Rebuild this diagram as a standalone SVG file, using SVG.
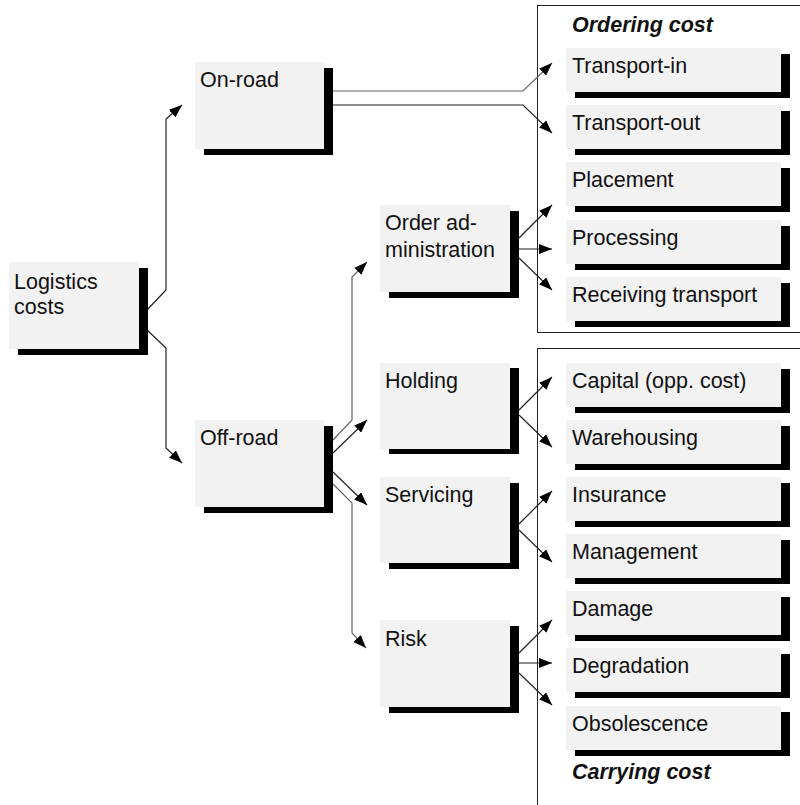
<svg xmlns="http://www.w3.org/2000/svg" width="800" height="805" viewBox="0 0 800 805">
  <style>
    .box { fill: #f2f2f2; }
    .shadow { fill: #000; }
    .label { font-family: "Liberation Sans", Arial, sans-serif; font-size: 21.5px; fill: #111; }
    .title { font-family: "Liberation Sans", Arial, sans-serif; font-size: 21.5px; font-weight: bold; font-style: italic; fill: #111; }
    .frame { fill: none; stroke: #222; stroke-width: 1; }
    .conn { fill: none; stroke: #222; stroke-width: 1.2; }
    .grey { stroke: #666; }
  </style>
  <defs>
    <marker id="arrow" markerUnits="userSpaceOnUse" markerWidth="13" markerHeight="10" refX="13" refY="5" orient="auto">
      <path d="M0,0 L13,5 L0,10 z" fill="#000"/>
    </marker>
  </defs>

  <rect width="800" height="805" fill="#fff"/>

  <!-- category frames -->
  <g id="ordering-cost">
    <rect class="frame" x="537.5" y="5.5" width="270" height="327"/>
    <text class="title" x="572" y="32">Ordering cost</text>
  </g>
  <g id="carrying-cost">
    <rect class="frame" x="537.5" y="348.5" width="270" height="470"/>
    <text class="title" x="572" y="779">Carrying cost</text>
  </g>

  <!-- connectors -->
  <g id="connectors">
    <!-- Logistics costs to On-road / Off-road -->
    <path class="conn" d="M147,310 L166,290 L166,119 L182,105" marker-end="url(#arrow)"/>
    <path class="conn" d="M147,330 L166,348 L166,448 L182,463" marker-end="url(#arrow)"/>
    <circle cx="138" cy="320" r="1.6" fill="#000"/>

    <!-- On-road to transport items -->
    <path class="conn grey" d="M333,91 L523,91 L552,63" marker-end="url(#arrow)"/>
    <path class="conn" d="M333,105 L523,105 L552,133" marker-end="url(#arrow)"/>

    <!-- Off-road to second level -->
    <path class="conn grey" d="M333,440 L352,420 L352,277 L367,262" marker-end="url(#arrow)"/>
    <path class="conn" d="M333,453 L367,420" marker-end="url(#arrow)"/>
    <path class="conn" d="M333,472 L367,505" marker-end="url(#arrow)"/>
    <path class="conn grey" d="M333,484 L352,503 L352,633 L366,648" marker-end="url(#arrow)"/>

    <!-- Order administration -->
    <path class="conn" d="M519,238 L552,205" marker-end="url(#arrow)"/>
    <path class="conn" d="M519,249 L552,249" marker-end="url(#arrow)"/>
    <path class="conn" d="M519,258 L552,290" marker-end="url(#arrow)"/>

    <!-- Holding -->
    <path class="conn" d="M519,410 L552,377" marker-end="url(#arrow)"/>
    <path class="conn" d="M519,415 L552,447" marker-end="url(#arrow)"/>

    <!-- Servicing -->
    <path class="conn" d="M519,524 L552,491" marker-end="url(#arrow)"/>
    <path class="conn" d="M519,530 L552,562" marker-end="url(#arrow)"/>

    <!-- Risk -->
    <path class="conn" d="M519,653 L552,620" marker-end="url(#arrow)"/>
    <path class="conn" d="M519,663 L552,663" marker-end="url(#arrow)"/>
    <path class="conn" d="M519,673 L552,705" marker-end="url(#arrow)"/>
  </g>

  <!-- main nodes -->
  <g id="logistics-costs">
    <rect class="shadow" x="18" y="268" width="130" height="87"/>
    <rect class="box" x="9" y="262" width="130" height="87"/>
    <text class="label" x="14" y="289">Logistics</text>
    <text class="label" x="14" y="314">costs</text>
  </g>
  <g id="on-road">
    <rect class="shadow" x="204" y="68" width="129" height="87"/>
    <rect class="box" x="195" y="62" width="129" height="87"/>
    <text class="label" x="200" y="87">On-road</text>
  </g>
  <g id="off-road">
    <rect class="shadow" x="204" y="426" width="129" height="87"/>
    <rect class="box" x="195" y="420" width="129" height="87"/>
    <text class="label" x="200" y="445">Off-road</text>
  </g>
  <g id="order-administration">
    <rect class="shadow" x="389" y="211" width="130" height="87"/>
    <rect class="box" x="380" y="205" width="130" height="87"/>
    <text class="label" x="385" y="230">Order ad-</text>
    <text class="label" x="385" y="257">ministration</text>
  </g>
  <g id="holding">
    <rect class="shadow" x="389" y="368" width="130" height="86"/>
    <rect class="box" x="380" y="363" width="130" height="86"/>
    <text class="label" x="385" y="388">Holding</text>
  </g>
  <g id="servicing">
    <rect class="shadow" x="389" y="483" width="130" height="86"/>
    <rect class="box" x="380" y="477" width="130" height="86"/>
    <text class="label" x="385" y="502">Servicing</text>
  </g>
  <g id="risk">
    <rect class="shadow" x="389" y="626" width="130" height="87"/>
    <rect class="box" x="380" y="620" width="130" height="87"/>
    <text class="label" x="385" y="646">Risk</text>
  </g>

  <!-- cost items -->
  <g id="transport-in">
    <rect class="shadow" x="575" y="54" width="215" height="44"/>
    <rect class="box" x="566" y="48" width="215" height="44"/>
    <text class="label" x="572" y="73">Transport-in</text>
  </g>
  <g id="transport-out">
    <rect class="shadow" x="575" y="111" width="215" height="44"/>
    <rect class="box" x="566" y="105" width="215" height="44"/>
    <text class="label" x="572" y="130">Transport-out</text>
  </g>
  <g id="placement">
    <rect class="shadow" x="575" y="168" width="215" height="44"/>
    <rect class="box" x="566" y="162" width="215" height="44"/>
    <text class="label" x="572" y="187">Placement</text>
  </g>
  <g id="processing">
    <rect class="shadow" x="575" y="226" width="215" height="44"/>
    <rect class="box" x="566" y="220" width="215" height="44"/>
    <text class="label" x="572" y="245">Processing</text>
  </g>
  <g id="receiving-transport">
    <rect class="shadow" x="575" y="283" width="215" height="44"/>
    <rect class="box" x="566" y="277" width="215" height="44"/>
    <text class="label" x="572" y="302">Receiving transport</text>
  </g>
  <g id="capital">
    <rect class="shadow" x="575" y="369" width="215" height="44"/>
    <rect class="box" x="566" y="363" width="215" height="44"/>
    <text class="label" x="572" y="388">Capital (opp. cost)</text>
  </g>
  <g id="warehousing">
    <rect class="shadow" x="575" y="426" width="215" height="44"/>
    <rect class="box" x="566" y="420" width="215" height="44"/>
    <text class="label" x="572" y="445">Warehousing</text>
  </g>
  <g id="insurance">
    <rect class="shadow" x="575" y="483" width="215" height="44"/>
    <rect class="box" x="566" y="477" width="215" height="44"/>
    <text class="label" x="572" y="502">Insurance</text>
  </g>
  <g id="management">
    <rect class="shadow" x="575" y="540" width="215" height="44"/>
    <rect class="box" x="566" y="534" width="215" height="44"/>
    <text class="label" x="572" y="559">Management</text>
  </g>
  <g id="damage">
    <rect class="shadow" x="575" y="597" width="215" height="44"/>
    <rect class="box" x="566" y="591" width="215" height="44"/>
    <text class="label" x="572" y="616">Damage</text>
  </g>
  <g id="degradation">
    <rect class="shadow" x="575" y="654" width="215" height="44"/>
    <rect class="box" x="566" y="648" width="215" height="44"/>
    <text class="label" x="572" y="673">Degradation</text>
  </g>
  <g id="obsolescence">
    <rect class="shadow" x="575" y="712" width="215" height="44"/>
    <rect class="box" x="566" y="706" width="215" height="44"/>
    <text class="label" x="572" y="731">Obsolescence</text>
  </g>
</svg>
